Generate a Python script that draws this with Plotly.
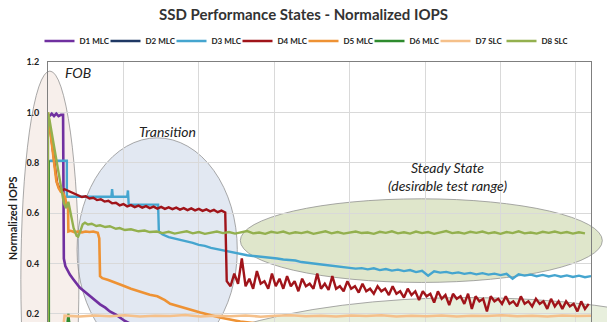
import numpy as np
import plotly.graph_objects as go

# ---------------- data ----------------
X_MAX = 7.2
Y_RANGE = [0.168, 1.2]
Y_TICKS = [0.2, 0.4, 0.6, 0.8, 1.0, 1.2]
Y_TICK_LABELS = ["0.2", "0.4", "0.6", "0.8", "1.0", "1.2"]

series_names = ["D1 MLC", "D2 MLC", "D3 MLC", "D4 MLC", "D5 MLC", "D6 MLC", "D7 SLC", "D8 SLC"]
series_colors = ["#7030A0", "#1F3864", "#45A5CF", "#A0141A", "#EE9234", "#2E8B2E", "#F5C08A", "#93B04E"]

d1_x = [0.02, 0.05, 0.08, 0.11, 0.14, 0.17, 0.20, 0.205, 0.21, 0.23, 0.26, 0.29, 0.33, 0.38, 0.42,
        0.48, 0.56, 0.62, 0.69, 0.76, 0.82, 0.90, 0.955, 1.02, 1.10, 1.25, 1.5, 2.0, 3.0, 4.0, 5.0, 6.0, 7.2]
d1_y = [0.985, 0.995, 0.985, 0.995, 0.985, 0.99, 0.99, 0.70, 0.42, 0.39, 0.37, 0.356, 0.34, 0.32, 0.305,
        0.29, 0.269, 0.255, 0.238, 0.225, 0.21, 0.197, 0.186, 0.172, 0.16, 0.14, 0.12, 0.10, 0.09, 0.085, 0.08, 0.08, 0.08]

d2_x = [0.0, 0.5, 1.0, 2.0, 3.0, 4.0, 5.0, 6.0, 7.2]
d2_y = [0.14, 0.13, 0.13, 0.125, 0.12, 0.12, 0.118, 0.115, 0.115]

d3_early_x = [0.02, 0.25, 0.25, 0.84, 0.85, 0.86, 1.05, 1.06, 1.07, 1.46, 1.47]
d3_early_y = [0.808, 0.808, 0.665, 0.665, 0.695, 0.665, 0.665, 0.69, 0.634, 0.634, 0.527]
d3_steady_start, d3_steady_step = 1.52, 0.08
d3_steady_y = [0.515, 0.505, 0.500, 0.493, 0.488, 0.482, 0.474, 0.470, 0.462, 0.457, 0.450, 0.446,
               0.440, 0.437, 0.433, 0.430, 0.428, 0.424, 0.421, 0.420, 0.416, 0.414, 0.412, 0.406,
               0.404, 0.400, 0.397, 0.394, 0.392, 0.388, 0.386, 0.384, 0.380, 0.382, 0.377, 0.381,
               0.374, 0.378, 0.372, 0.376, 0.370, 0.374, 0.366, 0.371, 0.352, 0.369, 0.364, 0.367,
               0.361, 0.365, 0.359, 0.363, 0.357, 0.362, 0.356, 0.360, 0.354, 0.359, 0.340, 0.357,
               0.352, 0.356, 0.350, 0.355, 0.349, 0.354, 0.348, 0.353, 0.347, 0.352, 0.346, 0.350]

d4_head_x = [0.0, 0.03, 0.06, 0.09, 0.12, 0.15, 0.18, 0.22, 0.26]
d4_head_y = [0.98, 0.93, 0.86, 0.78, 0.72, 0.70, 0.69, 0.695, 0.69]
d4_mid_start, d4_mid_step = 0.30, 0.05
d4_mid_y = [0.685, 0.676, 0.672, 0.664, 0.667, 0.658, 0.661, 0.652, 0.655, 0.646, 0.649, 0.639,
            0.641, 0.631, 0.636, 0.627, 0.632, 0.624, 0.630, 0.622, 0.628, 0.620, 0.626, 0.618,
            0.625, 0.617, 0.623, 0.616, 0.622, 0.614, 0.620, 0.612, 0.619, 0.611, 0.617, 0.609,
            0.615, 0.607, 0.613, 0.604, 0.610, 0.603]
d4_steady_start, d4_steady_step = 2.37, 0.05
d4_steady_y = [0.33, 0.31, 0.36, 0.32, 0.42, 0.31, 0.34, 0.30, 0.37, 0.32, 0.33, 0.30, 0.36, 0.31,
               0.34, 0.30, 0.35, 0.31, 0.33, 0.29, 0.34, 0.31, 0.32, 0.30, 0.36, 0.30, 0.32, 0.295,
               0.35, 0.30, 0.31, 0.29, 0.33, 0.30, 0.31, 0.285, 0.32, 0.29, 0.30, 0.28, 0.31, 0.29,
               0.30, 0.275, 0.31, 0.28, 0.29, 0.265, 0.30, 0.275, 0.29, 0.255, 0.29, 0.27, 0.28, 0.245,
               0.29, 0.26, 0.275, 0.235, 0.28, 0.26, 0.27, 0.24, 0.28, 0.22, 0.27, 0.25, 0.26, 0.21,
               0.27, 0.25, 0.26, 0.24, 0.27, 0.24, 0.25, 0.23, 0.27, 0.24, 0.25, 0.23, 0.26, 0.24,
               0.25, 0.22, 0.26, 0.23, 0.25, 0.22, 0.25, 0.23, 0.24, 0.21, 0.25, 0.22, 0.24]

d5_x = [0.0, 0.02, 0.05, 0.08, 0.11, 0.14, 0.17, 0.20, 0.23, 0.25, 0.265, 0.27, 0.30, 0.35, 0.40,
        0.45, 0.50, 0.55, 0.60, 0.66, 0.68, 0.69, 0.72, 0.8, 0.9, 1.0, 1.1, 1.2, 1.29, 1.35, 1.45,
        1.55, 1.62, 1.75, 1.9, 2.02, 2.15, 2.28, 2.55, 3.0, 4.0, 5.0, 6.0, 7.2]
d5_y = [1.0, 0.95, 0.88, 0.80, 0.73, 0.70, 0.685, 0.68, 0.66, 0.62, 0.64, 0.527, 0.53, 0.525, 0.527,
        0.524, 0.527, 0.525, 0.527, 0.522, 0.50, 0.35, 0.342, 0.335, 0.325, 0.312, 0.30, 0.29, 0.28,
        0.276, 0.27, 0.255, 0.24, 0.228, 0.215, 0.206, 0.196, 0.186, 0.17, 0.155, 0.14, 0.13, 0.125, 0.12]

d6_x = [0.01, 0.012, 0.25, 0.26, 0.27, 0.28, 0.30, 1.0, 2.0, 3.0, 4.0, 5.0, 6.0, 7.2]
d6_y = [0.81, 0.14, 0.14, 0.17, 0.20, 0.17, 0.14, 0.14, 0.135, 0.135, 0.13, 0.13, 0.13, 0.13]

d7_head_x = [0.0, 0.2]
d7_head_y = [0.14, 0.14]
d7_steady_start, d7_steady_step = 0.22, 0.2
d7_steady_y = [0.193, 0.190, 0.194, 0.191, 0.195, 0.190, 0.193, 0.192, 0.196, 0.190, 0.193, 0.191,
               0.194, 0.189, 0.193, 0.195, 0.191, 0.193, 0.190, 0.194, 0.192, 0.195, 0.190, 0.193,
               0.191, 0.194, 0.190, 0.193, 0.192, 0.195, 0.191, 0.193, 0.190, 0.194, 0.192, 0.193]

d8_head_x = [0.0, 0.0, 0.02, 0.06, 0.10, 0.14, 0.18, 0.21, 0.24, 0.27, 0.30, 0.34, 0.38, 0.40, 0.43,
             0.46, 0.49, 0.53, 0.58, 0.64, 0.69, 0.76, 0.82, 0.90, 0.95, 1.02, 1.10, 1.20, 1.28, 1.35]
d8_head_y = [0.15, 1.0, 0.97, 0.90, 0.83, 0.76, 0.69, 0.64, 0.62, 0.645, 0.60, 0.54, 0.51, 0.507, 0.53,
             0.556, 0.562, 0.555, 0.558, 0.549, 0.552, 0.545, 0.548, 0.538, 0.541, 0.533, 0.536, 0.528,
             0.531, 0.525]
d8_steady_start, d8_steady_step = 1.44, 0.08
d8_steady_y = [0.527, 0.521, 0.526, 0.519, 0.524, 0.528, 0.520, 0.525, 0.518, 0.523, 0.527, 0.521,
               0.525, 0.519, 0.524, 0.529, 0.520, 0.523, 0.518, 0.526, 0.522, 0.527, 0.519, 0.524,
               0.521, 0.526, 0.518, 0.523, 0.528, 0.520, 0.525, 0.519, 0.524, 0.527, 0.521, 0.523,
               0.518, 0.526, 0.522, 0.528, 0.520, 0.524, 0.519, 0.527, 0.521, 0.525, 0.518, 0.523,
               0.529, 0.521, 0.524, 0.519, 0.526, 0.522, 0.527, 0.520, 0.524, 0.518, 0.525, 0.521,
               0.528, 0.520, 0.523, 0.519, 0.526, 0.522, 0.527, 0.521, 0.525, 0.519, 0.524, 0.520]

# region ellipses (data units: x0, x1, y0, y1), labels
regions = [
    dict(x0=-0.36, x1=0.41, y0=-0.49, y1=1.164, fill="rgba(228,196,182,0.28)"),   # FOB
    dict(x0=0.385, x1=2.51, y0=0.012, y1=0.899, fill="rgba(180,194,222,0.38)"),   # Transition
    dict(x0=2.55, x1=7.35, y0=0.325, y1=0.657, fill="rgba(196,210,160,0.55)"),    # Steady
    dict(x0=1.20, x1=9.95, y0=-0.54, y1=0.265, fill="rgba(205,220,180,0.45)"),    # lower band
]
region_labels = [
    ("<i>FOB</i>", 0.40, 1.158, 14),
    ("<i>Transition</i>", 1.59, 0.926, 14),
    ("<i>Steady State</i>", 5.30, 0.783, 14),
    ("<i>(desirable test range)</i>", 5.30, 0.708, 14),
]


def grid(start, step, vals):
    return [round(start + step * i, 4) for i in range(len(vals))]


series_x = [
    d1_x,
    d2_x,
    d3_early_x + grid(d3_steady_start, d3_steady_step, d3_steady_y),
    d4_head_x + grid(d4_mid_start, d4_mid_step, d4_mid_y) + grid(d4_steady_start, d4_steady_step, d4_steady_y),
    d5_x,
    d6_x,
    d7_head_x + grid(d7_steady_start, d7_steady_step, d7_steady_y),
    d8_head_x + grid(d8_steady_start, d8_steady_step, d8_steady_y),
]
series_y = [
    d1_y,
    d2_y,
    d3_early_y + d3_steady_y,
    d4_head_y + d4_mid_y + d4_steady_y,
    d5_y,
    d6_y,
    d7_head_y + d7_steady_y,
    d8_head_y + d8_steady_y,
]
series_widths = [2.6, 2.4, 2.4, 2.4, 2.6, 2.4, 2.6, 2.4]

fig = go.Figure()
for name, col, xs, ys, w in zip(series_names, series_colors, series_x, series_y, series_widths):
    fig.add_trace(go.Scatter(x=xs, y=ys, mode="lines", name=name,
                             line=dict(color=col, width=w)))


def to_px(v):
    return v / X_MAX


def to_py(v):
    return (v - Y_RANGE[0]) / (Y_RANGE[1] - Y_RANGE[0])


for r in regions:
    fig.add_shape(type="circle", xref="paper", yref="paper",
                  x0=to_px(r["x0"]), x1=to_px(r["x1"]), y0=to_py(r["y0"]), y1=to_py(r["y1"]),
                  fillcolor=r["fill"], line=dict(color="rgba(140,140,140,0.75)", width=1),
                  layer="below")

for txt, lx, ly, fs in region_labels:
    fig.add_annotation(x=lx, y=ly, xref="x", yref="y", text=txt, showarrow=False,
                       font=dict(family="Lato", size=fs, color="#222222"))

fig.add_annotation(text="<b>Normalized IOPS</b>", textangle=-90, xref="paper", yref="paper",
                   x=-0.066, y=0.40, showarrow=False, xanchor="center", yanchor="middle",
                   font=dict(family="Lato", size=11, color="#222222"))

fig.update_layout(
    width=607, height=322,
    margin=dict(l=48, r=16, t=62, b=0, autoexpand=False),
    paper_bgcolor="white", plot_bgcolor="rgba(0,0,0,0)",
    title=dict(text="<b>SSD Performance States - Normalized IOPS</b>", x=0.5, xref="container",
               y=1 - 15 / 322, yref="container", xanchor="center", yanchor="middle",
               font=dict(family="Lato", size=15, color="#333333")),
    legend=dict(orientation="h", xref="container", x=0.5, xanchor="center",
                yref="container", y=1 - 41 / 322, yanchor="middle",
                font=dict(family="Lato", size=8, color="#222222", weight="bold"),
                entrywidth=21, entrywidthmode="pixels", itemwidth=30,
                bgcolor="rgba(0,0,0,0)", traceorder="normal"),
    xaxis=dict(range=[0, X_MAX], dtick=1, tick0=0, showticklabels=False, showgrid=True,
               gridcolor="#d9d9d9", gridwidth=1, zeroline=False, showline=True,
               linecolor="#7f7f7f", linewidth=1, mirror=True, ticks=""),
    yaxis=dict(range=Y_RANGE, tickvals=Y_TICKS, ticktext=Y_TICK_LABELS, showgrid=True,
               gridcolor="#d9d9d9", gridwidth=1, zeroline=False, showline=True,
               linecolor="#7f7f7f", linewidth=1, mirror=True, ticks="outside", ticklen=6,
               tickcolor="rgba(0,0,0,0)",
               tickfont=dict(family="Lato", size=9, color="#222222", weight="bold")),
    showlegend=True,
)

fig.write_html("out.html")
